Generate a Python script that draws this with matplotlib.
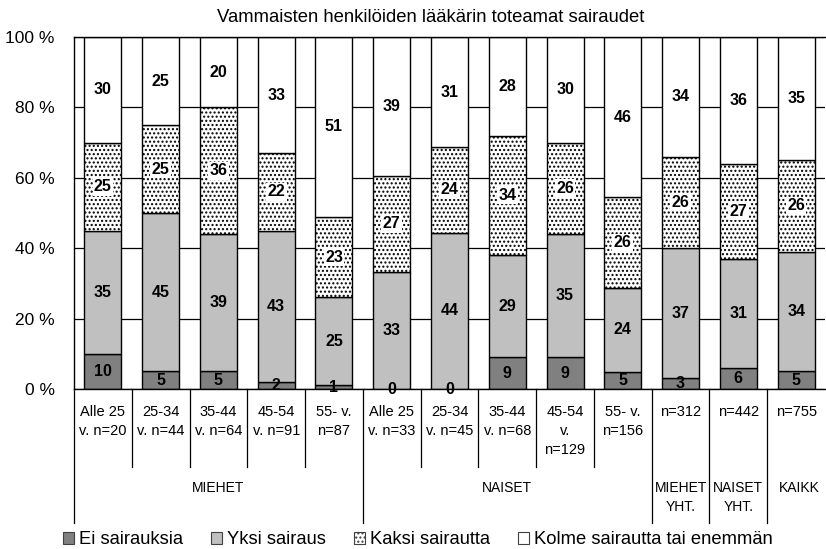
import numpy as np
import matplotlib.pyplot as plt
from matplotlib.patches import Patch
from matplotlib.transforms import blended_transform_factory

plt.rcParams["font.family"] = ["Liberation Sans", "DejaVu Sans"]
plt.rcParams["hatch.linewidth"] = 1.0

title = "Vammaisten henkilöiden lääkärin toteamat sairaudet"

cat_labels = ["Alle 25\nv. n=20", "25-34\nv. n=44", "35-44\nv. n=64", "45-54\nv. n=91",
              "55- v.\nn=87", "Alle 25\nv. n=33", "25-34\nv. n=45", "35-44\nv. n=68",
              "45-54\nv.\nn=129", "55- v.\nn=156", "n=312", "n=442", "n=755"]

# group label, first category index, last category index (exclusive)
groups = [("MIEHET", 0, 5), ("NAISET", 5, 10), ("MIEHET\nYHT.", 10, 11),
          ("NAISET\nYHT.", 11, 12), ("KAIKK", 12, 13)]

series_names = ["Ei sairauksia", "Yksi sairaus", "Kaksi sairautta",
                "Kolme sairautta tai enemmän"]

ei = [10, 5, 5, 2, 1, 0, 0, 9, 9, 5, 3, 6, 5]
yksi = [35, 45, 39, 43, 25, 33, 44, 29, 35, 24, 37, 31, 34]
kaksi = [25, 25, 36, 22, 23, 27, 24, 34, 26, 26, 26, 27, 26]
kolme = [30, 25, 20, 33, 51, 39, 31, 28, 30, 46, 34, 36, 35]

data = np.array([ei, yksi, kaksi, kolme], dtype=float)
shares = data / data.sum(axis=0) * 100

colors = ["#808080", "#c0c0c0", "white", "white"]
hatches = [None, None, "....", None]

fig = plt.figure(figsize=(8.26, 5.49), dpi=100)
ax = fig.add_axes([74 / 826, 1 - 389 / 549, 751 / 826, 352 / 549])

x = np.arange(len(cat_labels)) + 0.5
bottom = np.zeros(len(cat_labels))
for i, name in enumerate(series_names):
    ax.bar(x, shares[i], 0.64, bottom=bottom, color=colors[i], edgecolor="black",
           linewidth=1.0, hatch=hatches[i], label=name, zorder=2)
    for xi, b, h, v in zip(x, bottom, shares[i], data[i]):
        box = dict(facecolor="white", edgecolor="none", pad=1.0) if i == 2 else None
        ax.text(xi, b + h / 2, f"{int(v)}", ha="center", va="center",
                fontsize=11.5, fontweight="bold", bbox=box, zorder=3)
    bottom += shares[i]

ax.set_xlim(0, len(cat_labels))
ax.set_ylim(0, 100)
ax.set_yticks(range(0, 101, 20))
ax.set_yticklabels([f"{v} %" for v in range(0, 101, 20)], fontsize=12.5)
ax.tick_params(axis="y", length=0, pad=14)
ax.set_xticks([])
ax.grid(axis="y", color="black", linewidth=0.9, zorder=0)
ax.spines["right"].set_visible(False)
for s in ["top", "left", "bottom"]:
    ax.spines[s].set_linewidth(1.0)

fig.text(431 / 826, 1 - 18 / 549, title, ha="center", va="center", fontsize=13.3)

tr = blended_transform_factory(ax.transData, fig.transFigure)

def fy(px):
    return 1 - px / 549

group_edges = {g[1] for g in groups} | {g[2] for g in groups}
for b in range(0, len(cat_labels)):
    end = 523 if b in group_edges else 467
    ax.plot([b, b], [fy(389), fy(end)], color="black", linewidth=0.9,
            transform=tr, clip_on=False)

for xi, lab in zip(x, cat_labels):
    ax.text(xi, fy(405), lab, ha="center", va="top", fontsize=10.5,
            linespacing=1.45, transform=tr)

for lab, a, b in groups:
    ax.text((a + b) / 2 + (0.05 if lab == "KAIKK" else 0), fy(481), lab,
            ha="center", va="top", fontsize=10, linespacing=1.45, transform=tr)

handles = [Patch(facecolor=c, edgecolor="#404040", hatch=h, linewidth=0.8)
           for c, h in zip(colors, hatches)]
fig.legend(handles, series_names, loc="center", bbox_to_anchor=(418 / 826, fy(540)),
           ncol=4, frameon=False, fontsize=13.2, handlelength=0.6, handleheight=0.6,
           handletextpad=0.3, columnspacing=1.5, borderpad=0)

fig.savefig("out.png", dpi=100)
